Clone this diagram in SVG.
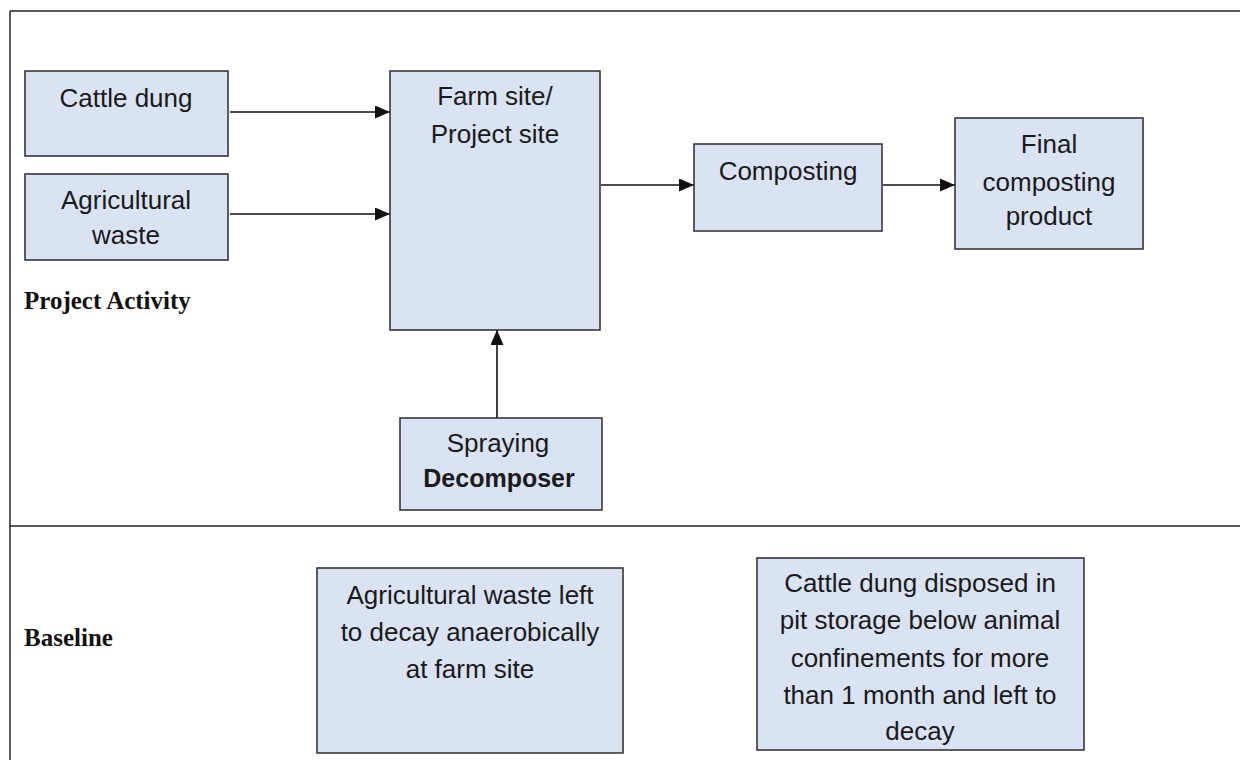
<svg xmlns="http://www.w3.org/2000/svg" width="1240" height="760" viewBox="0 0 1240 760">
<style>
.box{fill:#dae3f3;stroke:#2b2b2b;stroke-width:1.5}
.t{font-family:"Liberation Sans",Arial,sans-serif;font-size:26px;fill:#1a1a1a;text-anchor:middle}
.b{font-weight:bold;font-size:25px}
.lab{font-family:"Liberation Serif","Times New Roman",serif;font-size:25px;font-weight:bold;fill:#111}
.frame{fill:none;stroke:#222;stroke-width:1.5}
.con{stroke:#111;stroke-width:1.6;fill:none;marker-end:url(#ah)}
</style>
<defs>
<marker id="ah" markerWidth="16" markerHeight="14" refX="15" refY="6.5" orient="auto" markerUnits="userSpaceOnUse" viewBox="0 0 16 14">
<path d="M0,0 L15,6.5 L0,13 Z" fill="#111"/>
</marker>
<clipPath id="clipR"><rect x="757" y="558" width="327" height="191"/></clipPath>
</defs>
<rect width="1240" height="760" fill="#fff"/>
<g id="frame">
<line class="frame" x1="10" y1="11" x2="1240" y2="11"/>
<line class="frame" x1="10" y1="11" x2="10" y2="760"/>
<line class="frame" x1="10" y1="526" x2="1240" y2="526"/>
</g>
<g id="labels">
<text class="lab" x="24" y="309">Project Activity</text>
<text class="lab" x="24" y="646">Baseline</text>
</g>
<g id="connectors">
<line class="con" x1="230" y1="112" x2="390" y2="112"/>
<line class="con" x1="230" y1="214" x2="390" y2="214"/>
<line class="con" x1="601" y1="185" x2="694" y2="185"/>
<line class="con" x1="883" y1="185" x2="955" y2="185"/>
<line class="con" x1="497" y1="418" x2="497" y2="330"/>
</g>
<g id="cattle-dung">
<rect class="box" x="25" y="71" width="203" height="85"/>
<text class="t" x="126" y="107">Cattle dung</text>
</g>
<g id="agricultural-waste">
<rect class="box" x="25" y="174" width="203" height="86"/>
<text class="t" x="126" y="209">Agricultural</text>
<text class="t" x="126" y="244">waste</text>
</g>
<g id="farm-site">
<rect class="box" x="390" y="71" width="210" height="259"/>
<text class="t" x="495" y="105">Farm site/</text>
<text class="t" x="495" y="143">Project site</text>
</g>
<g id="composting">
<rect class="box" x="694" y="144" width="188" height="87"/>
<text class="t" x="788" y="180">Composting</text>
</g>
<g id="final-product">
<rect class="box" x="955" y="118" width="188" height="131"/>
<text class="t" x="1049" y="153">Final</text>
<text class="t" x="1049" y="191">composting</text>
<text class="t" x="1049" y="225">product</text>
</g>
<g id="spraying">
<rect class="box" x="400" y="418" width="202" height="92"/>
<text class="t" x="498" y="452">Spraying</text>
<text class="t b" x="499" y="487">Decomposer</text>
</g>
<g id="baseline-agri">
<rect class="box" x="317" y="568" width="306" height="185"/>
<text class="t" x="470" y="604">Agricultural waste left</text>
<text class="t" x="470" y="641">to decay anaerobically</text>
<text class="t" x="470" y="678">at farm site</text>
</g>
<g id="baseline-cattle">
<rect class="box" x="757" y="558" width="327" height="192"/>
<g clip-path="url(#clipR)">
<text class="t" x="920" y="592">Cattle dung disposed in</text>
<text class="t" x="920" y="629">pit storage below animal</text>
<text class="t" x="920" y="667">confinements for more</text>
<text class="t" x="920" y="704">than 1 month and left to</text>
<text class="t" x="920" y="740">decay</text>
</g>
</g>
</svg>
